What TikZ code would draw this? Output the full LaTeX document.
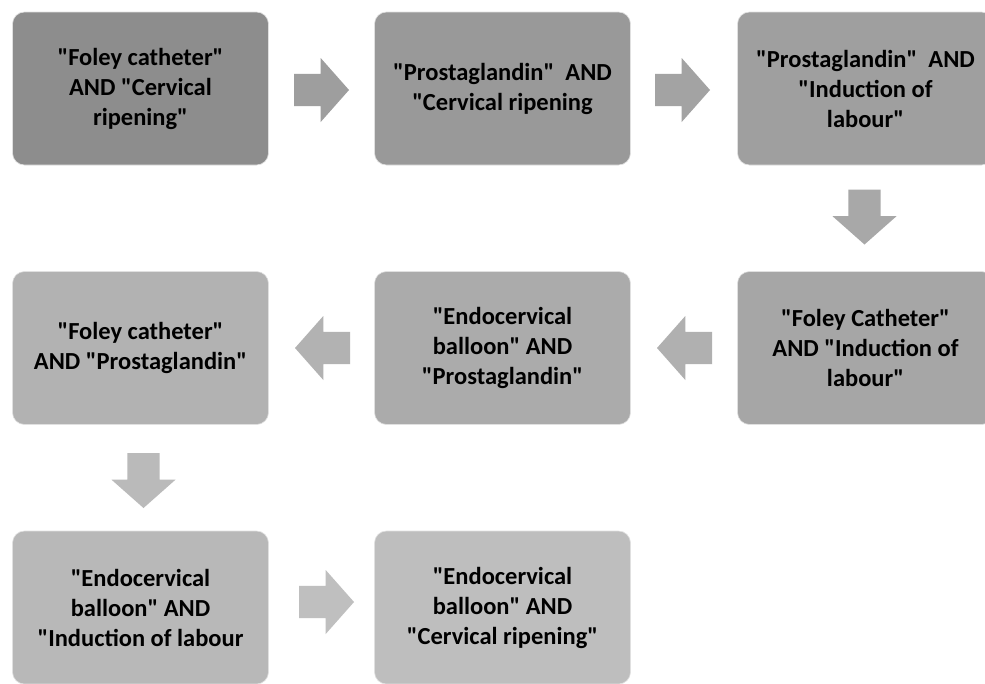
\documentclass[tikz,border=0pt]{standalone}
\usepackage{fontspec}
\newfontfamily\boxfont{Carlito}
\usetikzlibrary{shapes.arrows,calc}

\definecolor{boxA}{RGB}{141,141,141}
\definecolor{boxB}{RGB}{153,153,153}
\definecolor{boxC}{RGB}{159,159,159}
\definecolor{boxD}{RGB}{166,166,166}
\definecolor{boxE}{RGB}{171,171,171}
\definecolor{boxF}{RGB}{178,178,178}
\definecolor{boxG}{RGB}{184,184,184}
\definecolor{boxH}{RGB}{190,190,190}

\tikzset{
  stage/.style={rectangle,rounded corners=12pt,draw=black!12,line width=0.6pt,
    minimum width=256pt,minimum height=153pt,inner sep=0pt,align=center,
    font=\boxfont\fontsize{24.5}{30}\selectfont\bfseries},
  flow/.style={single arrow,minimum height=55pt,minimum width=64pt,inner sep=12pt,
    anchor=tail,single arrow head extend=12pt,single arrow tip angle=97}
}

\begin{document}
\begin{tikzpicture}[x=1pt,y=-1pt]
\useasboundingbox[fill=white] (0,0) rectangle (985,683);
\node[stage,fill=boxA] (1) at (140.5,88.5) {"Foley catheter"\\AND "Cervical\\ripening"};
\node[stage,fill=boxB] (2) at (502.5,88.5) {"Prostaglandin"~ AND\\"Cervical ripening};
\node[stage,fill=boxC] (3) at (865.5,88.5) {"Prostaglandin"~ AND\\"Induction of\\labour"};
\node[stage,fill=boxD] (4) at (865.5,348) {"Foley Catheter"\\AND "Induction of\\labour"};
\node[stage,fill=boxE] (5) at (502.5,348) {"Endocervical\\balloon" AND\\"Prostaglandin"};
\node[stage,fill=boxF] (6) at (140.5,348) {"Foley catheter"\\AND "Prostaglandin"};
\node[stage,fill=boxG] (7) at (140.5,607.5) {"Endocervical\\balloon" AND\\"Induction of labour};
\node[stage,fill=boxH] (8) at (502.5,607.5) {"Endocervical\\balloon" AND\\"Cervical ripening"};
% arrows between the stages
\node[flow,fill=black!38] (a12) at ($(1.east)!25pt!(2.west)+(0,1.5)$) {};
\node[flow,fill=black!36] (a23) at ($(2.east)!24pt!(3.west)+(0,1.5)$) {};
\node[flow,fill=black!34,shape border rotate=270] (a34) at ($(3.south)!24pt!(4.north)+(-1,0)$) {};
\node[flow,fill=black!31,shape border rotate=180] (a45) at ($(4.west)!25pt!(5.east)$) {};
\node[flow,fill=black!30,shape border rotate=180] (a56) at ($(5.west)!24pt!(6.east)$) {};
\node[flow,fill=black!27,shape border rotate=270] (a67) at ($(6.south)!28pt!(7.north)+(3,0)$) {};
\node[flow,fill=black!25] (a78) at ($(7.east)!30pt!(8.west)+(0,-5.5)$) {};
\end{tikzpicture}
\end{document}
